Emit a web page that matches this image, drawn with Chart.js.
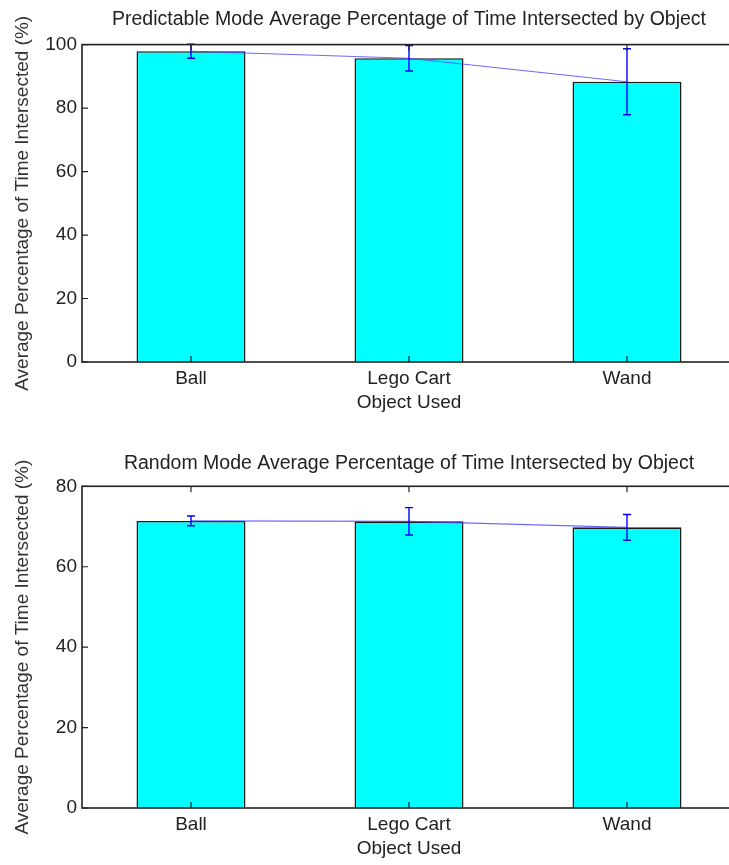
<!DOCTYPE html>
<html>
<head>
<meta charset="utf-8">
<script src="https://cdn.jsdelivr.net/npm/chart.js@4.4.1/dist/chart.umd.min.js"></script>
<style>
	html, body { margin: 0; padding: 0; background: #fff; overflow: hidden; width: 729px; height: 865px; }
	canvas { position: absolute; left: 0; }
	#zgoraj { top: 0; }
	#spodaj { top: 430px; }
</style>
</head>
<body>
<canvas id="zgoraj" width="740" height="430"></canvas>
<canvas id="spodaj" width="740" height="435"></canvas>
<script>
let predmeti = ["Ball", "Lego Cart", "Wand"];

let predvidljivPovp = [97.9, 95.7, 88.3];
let predvidljivNapaka = [2.2, 4.0, 10.4];

let nakljucnoPovp = [71.4, 71.3, 69.8];
let nakljucnoNapaka = [1.2, 3.4, 3.2];

let yTickiZgoraj = [0, 20, 40, 60, 80, 100];
let yTickiSpodaj = [0, 20, 40, 60, 80];

const pisava = "'Liberation Sans', Arial, sans-serif";
const barvaTeksta = "#222";

// okvir in notranji ticki kot v matlabu
let okvirPlugin = {
	id: "okvir",
	afterDraw(chart) {
		let ctx = chart.ctx;
		let a = chart.chartArea;
		let x = chart.scales.x;
		let y = chart.scales.y;
		ctx.save();
		ctx.strokeStyle = "#222";
		ctx.lineWidth = 1.6;
		ctx.strokeRect(a.left, a.top, a.right - a.left, a.bottom - a.top);
		ctx.lineWidth = 1.2;
		ctx.beginPath();
		for(let i = 0; i < predmeti.length; i++){
			let px = x.getPixelForValue(i);
			ctx.moveTo(px, a.bottom);
			ctx.lineTo(px, a.bottom - 6);
			ctx.moveTo(px, a.top);
			ctx.lineTo(px, a.top + 6);
		}
		y.ticks.forEach(t => {
			let py = y.getPixelForValue(t.value);
			ctx.moveTo(a.left, py);
			ctx.lineTo(a.left + 6, py);
			ctx.moveTo(a.right, py);
			ctx.lineTo(a.right - 6, py);
		});
		ctx.stroke();
		ctx.restore();
	}
};

// napake narisemo same, ker plugin za error bars ni na voljo
let napakePlugin = {
	id: "napake",
	afterDatasetsDraw(chart, args, opts) {
		let ctx = chart.ctx;
		let x = chart.scales.x;
		let y = chart.scales.y;
		ctx.save();
		ctx.strokeStyle = "#0000ff";
		ctx.lineWidth = 1.4;
		ctx.beginPath();
		for(let i = 0; i < opts.povp.length; i++){
			let px = x.getPixelForValue(i);
			let gor = y.getPixelForValue(opts.povp[i] + opts.napaka[i]);
			let dol = y.getPixelForValue(opts.povp[i] - opts.napaka[i]);
			ctx.moveTo(px, gor);
			ctx.lineTo(px, dol);
			ctx.moveTo(px - 4, gor);
			ctx.lineTo(px + 4, gor);
			ctx.moveTo(px - 4, dol);
			ctx.lineTo(px + 4, dol);
		}
		ctx.stroke();
		ctx.restore();
	}
};

function narediGraf(id, naslov, povp, napaka, yTicki, nastavitve){
	return new Chart(id, {
		type: "bar",
		data: {
			labels: predmeti,
			datasets: [{
				type: "line",
				data: povp,
				borderColor: "rgba(70,70,255,0.8)",
				borderWidth: 1.2,
				pointRadius: 0,
				fill: false,
				order: 0
			},
			{
				data: povp,
				backgroundColor: "#00ffff",
				borderColor: "#1a1a1a",
				borderWidth: 1.6,
				barPercentage: 0.5,
				categoryPercentage: 1,
				order: 1
			}]
		},
		options: {
			responsive: false,
			animation: false,
			layout: { padding: { left: 0, right: 4, top: 0, bottom: 0 } },
			plugins: {
				legend: { display: false },
				tooltip: { enabled: false },
				title: {
					display: true,
					text: naslov,
					fullSize: false,
					color: barvaTeksta,
					font: { family: pisava, size: 19.5, weight: "normal" },
					padding: { top: nastavitve.naslovGor, bottom: nastavitve.naslovDol }
				},
				napake: { povp: povp, napaka: napaka }
			},
			scales: {
				x: {
					grid: { display: false, drawTicks: false },
					border: { display: false },
					ticks: { color: barvaTeksta, font: { family: pisava, size: 19 }, padding: 5 },
					title: {
						display: true,
						text: "Object Used",
						color: barvaTeksta,
						font: { family: pisava, size: 19 },
						padding: { top: 0, bottom: nastavitve.xNaslovDol }
					},
					afterFit(s){ s.height = nastavitve.xVisina; }
				},
				y: {
					min: 0,
					max: yTicki[yTicki.length - 1],
					afterBuildTicks(s){ s.ticks = yTicki.map(v => ({ value: v })); },
					grid: { display: false, drawTicks: false },
					border: { display: false },
					ticks: { color: barvaTeksta, font: { family: pisava, size: 19 }, padding: 5 },
					title: {
						display: true,
						text: "Average Percentage of Time Intersected (%)",
						color: "#333",
						font: { family: pisava, size: 19 },
						padding: { top: 11, bottom: 0 }
					},
					afterFit(s){ s.width = 82; }
				}
			}
		},
		plugins: [napakePlugin, okvirPlugin]
	});
}

narediGraf("zgoraj", "Predictable Mode Average Percentage of Time Intersected by Object",
	predvidljivPovp, predvidljivNapaka, yTickiZgoraj,
	{ naslovGor: 8, naslovDol: 13.2, xVisina: 68, xNaslovDol: 15.6 });

narediGraf("spodaj", "Random Mode Average Percentage of Time Intersected by Object",
	nakljucnoPovp, nakljucnoNapaka, yTickiSpodaj,
	{ naslovGor: 22, naslovDol: 10.9, xVisina: 57, xNaslovDol: 4.6 });
</script>
</body>
</html>
